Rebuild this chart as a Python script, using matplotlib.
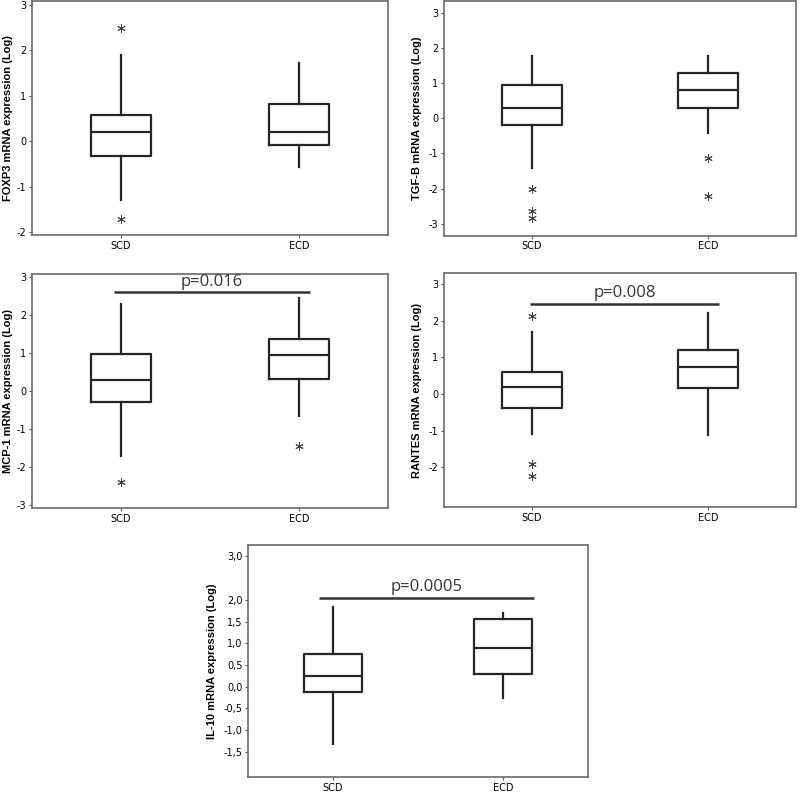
import matplotlib
matplotlib.use("Agg")
import matplotlib.pyplot as plt

groups = ["SCD", "ECD"]

# box stats: q1, median, q3, whisker ends, outliers
foxp3_scd = dict(q1=-0.32, med=0.21, q3=0.57, whislo=-1.30, whishi=1.90, fliers=[2.50, -1.70])
foxp3_ecd = dict(q1=-0.07, med=0.21, q3=0.82, whislo=-0.57, whishi=1.72, fliers=[])

tgfb_scd = dict(q1=-0.18, med=0.28, q3=0.94, whislo=-1.40, whishi=1.78, fliers=[-2.00, -2.63, -2.82])
tgfb_ecd = dict(q1=0.30, med=0.81, q3=1.28, whislo=-0.42, whishi=1.76, fliers=[-1.12, -2.20])

mcp1_scd = dict(q1=-0.28, med=0.28, q3=0.98, whislo=-1.72, whishi=2.30, fliers=[-2.38])
mcp1_ecd = dict(q1=0.32, med=0.95, q3=1.38, whislo=-0.66, whishi=2.45, fliers=[-1.45])

rantes_scd = dict(q1=-0.39, med=0.19, q3=0.60, whislo=-1.10, whishi=1.70, fliers=[2.13, -1.92, -2.24])
rantes_ecd = dict(q1=0.17, med=0.73, q3=1.19, whislo=-1.12, whishi=2.20, fliers=[])

il10_scd = dict(q1=-0.13, med=0.25, q3=0.74, whislo=-1.33, whishi=1.84, fliers=[])
il10_ecd = dict(q1=0.30, med=0.90, q3=1.56, whislo=-0.26, whishi=1.70, fliers=[])

labels = ["FOXP3 mRNA expression (Log)", "TGF-B mRNA expression (Log)",
          "MCP-1 mRNA expression (Log)", "RANTES mRNA expression (Log)",
          "IL-10 mRNA expression (Log)"]
stats = [(foxp3_scd, foxp3_ecd), (tgfb_scd, tgfb_ecd), (mcp1_scd, mcp1_ecd),
         (rantes_scd, rantes_ecd), (il10_scd, il10_ecd)]

# p-value bars: (text, y, x start, x end) or None
pvals = [None, None, ("p=0.016", 2.60, 0.96, 2.06),
         ("p=0.008", 2.47, 0.99, 2.06), ("p=0.0005", 2.05, 0.92, 2.18)]

yticks = [[-2, -1, 0, 1, 2, 3], [-3, -2, -1, 0, 1, 2, 3], [-3, -2, -1, 0, 1, 2, 3],
          [-2, -1, 0, 1, 2, 3], [-1.5, -1.0, -0.5, 0.0, 0.5, 1.0, 1.5, 2.0, 3.0]]
ylims = [(-2.06, 3.09), (-3.34, 3.34), (-3.08, 3.08), (-3.09, 3.30), (-2.09, 3.27)]

rects = [[0.040, 0.704, 0.445, 0.295], [0.555, 0.703, 0.440, 0.296],
         [0.040, 0.360, 0.445, 0.295], [0.555, 0.361, 0.440, 0.295],
         [0.310, 0.021, 0.425, 0.293]]
label_x = [-0.052, -0.062, -0.052, -0.062, -0.091]

ink = "#262626"
fig = plt.figure(figsize=(8, 7.94), dpi=100)

for i in range(5):
    ax = fig.add_axes(rects[i])
    bx = []
    for g, s in zip(groups, stats[i]):
        d = dict(s)
        d["label"] = g
        bx.append(d)
    ax.bxp(bx, positions=[1, 2], widths=0.34, showcaps=False,
           boxprops=dict(color=ink, lw=1.6),
           whiskerprops=dict(color=ink, lw=1.6),
           medianprops=dict(color=ink, lw=1.6),
           flierprops=dict(marker=(6, 2, 0), markersize=6, markeredgecolor="#444444",
                           markeredgewidth=0.7, linestyle="none"))
    ax.set_xlim(0.5, 2.5)
    ax.set_ylim(*ylims[i])
    ax.set_yticks(yticks[i])
    if i == 4:
        ax.set_yticklabels([("%.1f" % t).replace(".", ",") for t in yticks[i]])
    else:
        ax.set_yticklabels(["%d" % t for t in yticks[i]])
    ax.tick_params(labelsize=7, length=2.5, width=0.8, color="#555555", pad=1.5)
    ax.set_ylabel(labels[i], fontsize=8, fontweight="bold", family="Liberation Sans")
    ax.yaxis.set_label_coords(label_x[i], 0.5)
    for sp in ax.spines.values():
        sp.set_color("#6a6a6a")
        sp.set_linewidth(1.2)
    p = pvals[i]
    if p is not None:
        txt, y, x0, x1 = p
        ax.plot([x0, x1], [y, y], color="#333333", lw=1.8, solid_capstyle="butt")
        ax.text((x0 + x1) / 2, y + 0.06, txt, ha="center", va="bottom",
                fontsize=12, color="#333333", family="Open Sans")

fig.savefig("out.png", dpi=100)
